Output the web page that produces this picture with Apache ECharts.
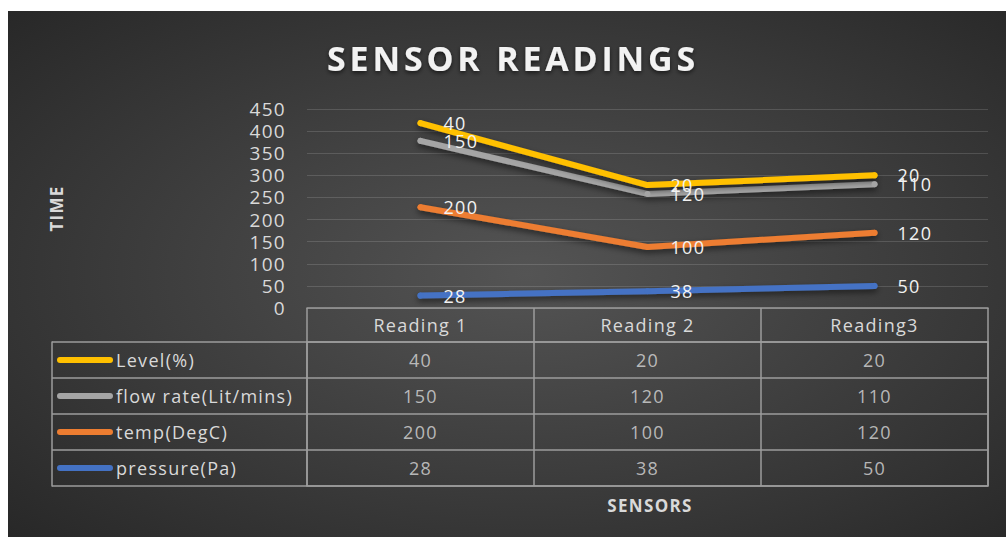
<!DOCTYPE html>
<html>
<head>
<meta charset="utf-8">
<script src="https://cdn.jsdelivr.net/npm/echarts@6/dist/echarts.min.js"></script>
<style>
html,body{margin:0;padding:0;background:#ffffff;width:1006px;height:537px;overflow:hidden;}
#chart{position:absolute;left:8px;top:11px;width:998px;height:526px;}
#chart svg text{letter-spacing:1.3px;}
#chart svg text[style*="34px"]{letter-spacing:3.8px;}
</style>
</head>
<body>
<div id="chart"></div>
<script>
const categories = ['Reading 1', 'Reading 2', 'Reading3'];
const seriesNames = ['Level(%)', 'flow rate(Lit/mins)', 'temp(DegC)', 'pressure(Pa)'];
const level = [40, 20, 20];
const flowRate = [150, 120, 110];
const temp = [200, 100, 120];
const pressure = [28, 38, 50];
const yTicks = [0, 50, 100, 150, 200, 250, 300, 350, 400, 450];

const colors = ['#FFC000', '#A5A5A5', '#ED7D31', '#4472C4'];
const rows = [level, flowRate, temp, pressure];
const FONT = '"Open Sans", sans-serif';
const txt = '#d9d9d9';
const border = '#9c9c9c';

const chart = echarts.init(document.getElementById('chart'), null, {renderer: 'svg'});

const tableData = [];
rows.forEach((arr, r) => arr.forEach((v, c) => tableData.push([c, r, v])));

const rich = {};
colors.forEach((c, i) => {
  rich['k' + i] = {width: 56, height: 6, backgroundColor: c, borderRadius: 3};
});
rich.t = {color: txt, fontSize: 18, fontFamily: FONT, padding: [0, 0, 0, 3]};

function lineSeries(name, data, idx) {
  return {
    name: name,
    type: 'line',
    stack: 'total',
    xAxisIndex: 0,
    yAxisIndex: 0,
    data: data,
    symbol: 'circle',
    symbolSize: 6,
    itemStyle: {color: colors[idx]},
    lineStyle: {width: 6, color: colors[idx], cap: 'round', join: 'round',
      shadowColor: 'rgba(0,0,0,0.55)', shadowBlur: 6, shadowOffsetY: 3},
    label: {show: true, position: 'right', distance: 20, color: '#f2f2f2',
      fontSize: 18, fontFamily: FONT},
    z: 3
  };
}

const option = {
  backgroundColor: new echarts.graphic.RadialGradient(0.52, 0.5, 0.75, [
    {offset: 0, color: '#545454'},
    {offset: 1, color: '#262626'}
  ]),
  animation: false,
  title: [
    {text: 'SENSOR READINGS', left: 500, top: 25, textAlign: 'center',
      textStyle: {color: '#f2f2f2', fontSize: 34, fontWeight: 'bold', fontFamily: FONT,
        textShadowColor: 'rgba(0,0,0,0.6)', textShadowBlur: 4, textShadowOffsetY: 2}},
    {text: 'SENSORS', left: 637, top: 481, textAlign: 'center',
      textStyle: {color: txt, fontSize: 17, fontWeight: 'bold', fontFamily: FONT}}
  ],
  grid: [
    {left: 299, right: 18, top: 98, bottom: 229},
    {left: 299, right: 18, top: 331, bottom: 51, show: true, borderColor: border, borderWidth: 1.5,
      backgroundColor: 'transparent'}
  ],
  xAxis: [
    {type: 'category', gridIndex: 0, data: categories, boundaryGap: true,
      axisLine: {show: true, lineStyle: {color: border, width: 1.5}},
      axisTick: {show: true, alignWithLabel: false, length: 34, lineStyle: {color: border, width: 1.5}},
      axisLabel: {color: txt, fontSize: 18, fontFamily: FONT, margin: 8},
      splitLine: {show: false}},
    {type: 'category', gridIndex: 1, data: categories, boundaryGap: true,
      axisLine: {show: false}, axisTick: {show: false}, axisLabel: {show: false},
      splitLine: {show: true, lineStyle: {color: border, width: 1.5}}}
  ],
  yAxis: [
    {type: 'value', gridIndex: 0, min: 0, max: 450, interval: 50,
      name: 'TIME', nameLocation: 'middle', nameRotate: 90, nameGap: 242,
      nameTextStyle: {color: txt, fontSize: 17, fontWeight: 'bold', fontFamily: FONT},
      axisLine: {show: false}, axisTick: {show: false},
      axisLabel: {color: txt, fontSize: 19, fontFamily: FONT, margin: 21,
        formatter: v => (yTicks.indexOf(v) >= 0 ? String(v) : '')},
      splitLine: {show: true, lineStyle: {color: 'rgba(255,255,255,0.14)', width: 1}}},
    {type: 'category', gridIndex: 1, data: seriesNames, inverse: true, boundaryGap: true,
      axisLine: {show: false},
      axisTick: {show: true, alignWithLabel: false, length: 255, lineStyle: {color: border, width: 1.5}},
      axisLabel: {align: 'left', margin: 250, rich: rich,
        formatter: (v, i) => '{k' + seriesNames.indexOf(v) + '|}{t|' + v + '}'},
      splitLine: {show: true, lineStyle: {color: border, width: 1.5}}},
    {type: 'category', gridIndex: 1, data: seriesNames, inverse: true, position: 'left', offset: 255,
      axisLine: {show: true, lineStyle: {color: border, width: 1.5}},
      axisTick: {show: false}, axisLabel: {show: false}, splitLine: {show: false}}
  ],
  series: [
    lineSeries(seriesNames[3], pressure, 3),
    lineSeries(seriesNames[2], temp, 2),
    lineSeries(seriesNames[1], flowRate, 1),
    lineSeries(seriesNames[0], level, 0),
    {type: 'scatter', xAxisIndex: 1, yAxisIndex: 1, data: tableData,
      symbolSize: 1, itemStyle: {color: 'rgba(0,0,0,0)'},
      label: {show: true, position: 'inside', color: txt, fontSize: 18, fontFamily: FONT,
        formatter: p => String(p.value[2])}}
  ]
};
chart.setOption(option);
</script>
</body>
</html>
